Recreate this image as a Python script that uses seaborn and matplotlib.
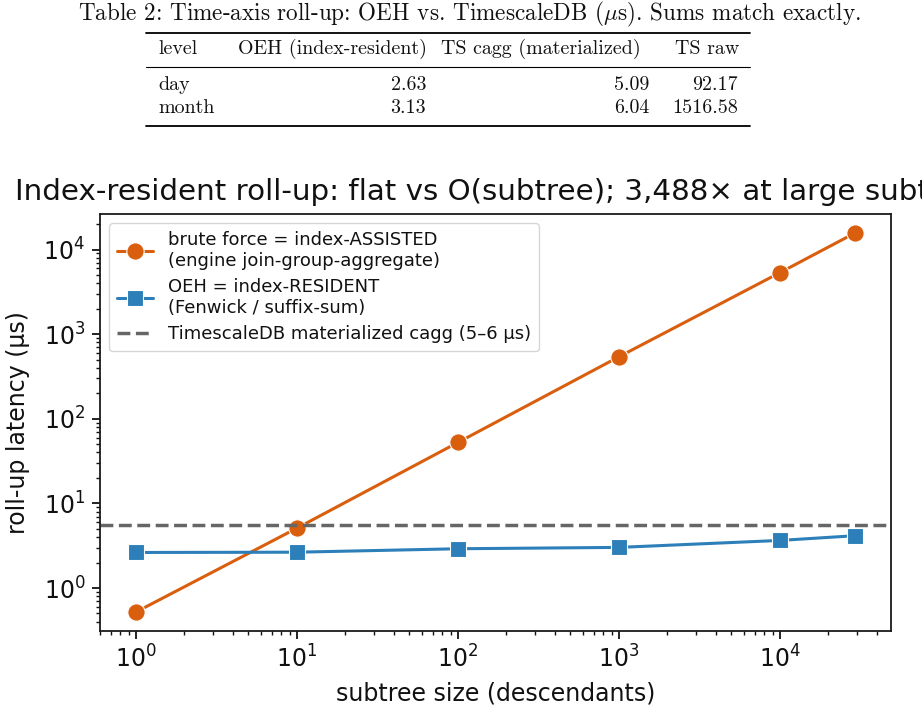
import numpy as np
import pandas as pd
import seaborn as sns
import matplotlib
matplotlib.use("Agg")
import matplotlib.pyplot as plt
from matplotlib.lines import Line2D

# ---------------- data ----------------
subtree_size = [1, 10, 100, 1000, 10000, 29300]
brute_us = [0.52, 5.1, 52.5, 540, 5330, 15700]
oeh_us = [2.63, 2.65, 2.91, 3.02, 3.65, 4.15]
ts_cagg_us = 5.57

brute_label = "brute force = index-ASSISTED\n(engine join-group-aggregate)"
oeh_label = "OEH = index-RESIDENT\n(Fenwick / suffix-sum)"
cagg_label = "TimescaleDB materialized cagg (5\u20136 \u00b5s)"

title = "Index-resident roll-up: flat vs O(subtree); 3,488\u00d7 at large subtree"
xlabel = "subtree size (descendants)"
ylabel = "roll-up latency (\u00b5s)"

table_caption = r"Table 2: Time-axis roll-up: OEH vs. TimescaleDB ($\mu$s). Sums match exactly."
table_header = ["level", "OEH (index-resident)", "TS cagg (materialized)", "TS raw"]
table_levels = ["day", "month"]
table_oeh = ["2.63", "3.13"]
table_cagg = ["5.09", "6.04"]
table_raw = ["92.17", "1516.58"]

# ---------------- style ----------------
sns.set_theme(style="ticks", rc={
    "axes.edgecolor": "#1a1a1a",
    "axes.linewidth": 1.3,
    "xtick.major.size": 5.6, "ytick.major.size": 5.6,
    "xtick.minor.size": 3.2, "ytick.minor.size": 3.2,
    "xtick.major.width": 1.3, "ytick.major.width": 1.3,
    "xtick.minor.width": 1.0, "ytick.minor.width": 1.0,
    "xtick.major.pad": 5.0, "ytick.major.pad": 5.0,
    "xtick.color": "#111111", "ytick.color": "#111111",
    "text.color": "#111111", "axes.labelcolor": "#111111",
})
plt.rcParams["font.family"] = ["DejaVu Sans"]

W, H = 922, 715
fig = plt.figure(figsize=(W / 100, H / 100), dpi=100)

def fx(px):
    return px / W

def fy(py):
    return 1 - py / H

# ---------------- table (LaTeX-like) ----------------
serif = "cmr10"
tfs = 14.4
fig.text(fx(469), fy(14), table_caption, ha="center", va="center",
         fontsize=16.7, family=serif, math_fontfamily="cm")
fig.add_artist(Line2D([fx(146), fx(750)], [fy(33), fy(33)], color="black", lw=1.3))
fig.add_artist(Line2D([fx(146), fx(750)], [fy(67), fy(67)], color="black", lw=0.8))
fig.add_artist(Line2D([fx(146), fx(750)], [fy(126), fy(126)], color="black", lw=1.3))

col_left = [158, 238, 441, 675]
col_right = [None, 426, 649, 738]
for i, h in enumerate(table_header):
    fig.text(fx(col_left[i]), fy(49), h, ha="left", va="center", fontsize=tfs, family=serif)
rows_y = [85, 108]
for r in range(len(table_levels)):
    fig.text(fx(col_left[0]), fy(rows_y[r]), table_levels[r], ha="left", va="center",
             fontsize=tfs, family=serif)
    for c, vals in zip([1, 2, 3], [table_oeh, table_cagg, table_raw]):
        fig.text(fx(col_right[c]), fy(rows_y[r]), vals[r], ha="right", va="center",
                 fontsize=tfs, family=serif)

# ---------------- chart ----------------
ax = fig.add_axes([fx(100), 1 - 631 / H, fx(891) - fx(100), (631 - 214) / H])

orange = "#d95f0e"
blue = "#2c7fb8"

df_brute = pd.DataFrame({"size": subtree_size, "latency": brute_us})
df_oeh = pd.DataFrame({"size": subtree_size, "latency": oeh_us})

sns.lineplot(data=df_brute, x="size", y="latency", ax=ax, color=orange, marker="o",
             markersize=12.5, linewidth=2.2, markeredgecolor="white", markeredgewidth=0.8,
             label=brute_label)
sns.lineplot(data=df_oeh, x="size", y="latency", ax=ax, color=blue, marker="s",
             markersize=11.5, linewidth=2.2, markeredgecolor="white", markeredgewidth=0.8,
             label=oeh_label)
ax.axhline(ts_cagg_us, color="#666666", linestyle="--", linewidth=2.5, label=cagg_label)

ax.set_xscale("log")
ax.set_yscale("log")
ax.margins(x=0.05, y=0.05)

ax.set_title(title, fontsize=21.15, pad=10)
ax.set_xlabel(xlabel, fontsize=17, labelpad=6)
ax.set_ylabel(ylabel, fontsize=17, labelpad=10)
ax.tick_params(axis="both", which="major", labelsize=17)

leg = ax.legend(loc="upper left", fontsize=13, frameon=True, fancybox=True,
                framealpha=0.8, edgecolor="#cccccc", handlelength=2.0,
                borderpad=0.45, labelspacing=0.45)

fig.savefig("out.png", dpi=100)
